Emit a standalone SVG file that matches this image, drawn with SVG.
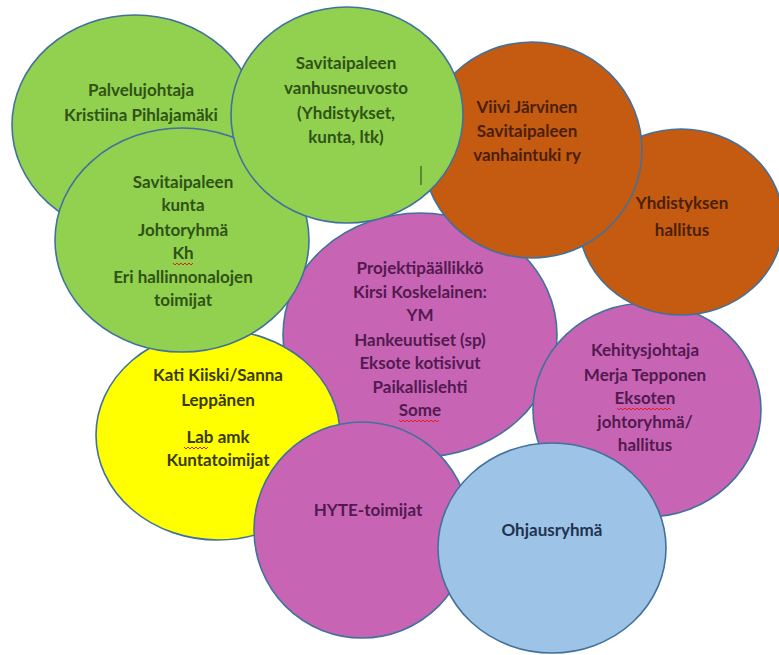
<svg xmlns="http://www.w3.org/2000/svg" width="779" height="655" viewBox="0 0 779 655">
<style>
.n{stroke:#41719C;stroke-width:1.6}
.g{fill:#92D050}.o{fill:#C55A11}.m{fill:#C864B4}.y{fill:#FFFF00}.b{fill:#9DC3E6}
text{font-family:Lato,"Liberation Sans",Arial,sans-serif;font-size:17px;font-weight:bold;text-anchor:middle}
.tg{fill:#2F5316}.to{fill:#4A1F06}.tm{fill:#521A50}.ty{fill:#3A3A00}.tb{fill:#1F3350}
.sq{fill:none;stroke:#E02020;stroke-width:1}
</style>
<rect width="779" height="655" fill="#FFFFFF"/>
<g id="connectors"></g>
<g id="projektipaallikko">
<ellipse class="n m" cx="420" cy="335" rx="137" ry="122"/>
<text class="tm"><tspan x="420" y="274">Projektipäällikkö</tspan><tspan x="420" y="298">Kirsi Koskelainen:</tspan><tspan x="420" y="321">YM</tspan><tspan x="420" y="346">Hankeuutiset (sp)</tspan><tspan x="420" y="369">Eksote kotisivut</tspan><tspan x="420" y="393">Paikallislehti</tspan><tspan x="420" y="416">Some</tspan></text>
<path class="sq" d="M399,420 l2,2 l2,-2 l2,2 l2,-2 l2,2 l2,-2 l2,2 l2,-2 l2,2 l2,-2 l2,2 l2,-2 l2,2 l2,-2 l2,2 l2,-2 l2,2 l2,-2 l2,2 l2,-2"/>
</g>
<g id="kehitysjohtaja">
<ellipse class="n m" cx="647" cy="410" rx="114" ry="107"/>
<text class="tm"><tspan x="645" y="356">Kehitysjohtaja</tspan><tspan x="645" y="381">Merja Tepponen</tspan><tspan x="645" y="404">Eksoten</tspan><tspan x="645" y="428">johtoryhmä/</tspan><tspan x="645" y="451">hallitus</tspan></text>
<path class="sq" d="M617,408 l2,2 l2,-2 l2,2 l2,-2 l2,2 l2,-2 l2,2 l2,-2 l2,2 l2,-2 l2,2 l2,-2 l2,2 l2,-2 l2,2 l2,-2 l2,2 l2,-2 l2,2 l2,-2 l2,2 l2,-2 l2,2 l2,-2 l2,2 l2,-2 l2,2"/>
</g>
<g id="kati-kiiski">
<ellipse class="n y" cx="218" cy="435" rx="122" ry="105"/>
<text class="ty"><tspan x="218" y="381">Kati Kiiski/Sanna</tspan><tspan x="218" y="406">Leppänen</tspan><tspan x="218" y="443">Lab amk</tspan><tspan x="218" y="466">Kuntatoimijat</tspan></text>
<path class="sq" d="M184,447 l2,2 l2,-2 l2,2 l2,-2 l2,2 l2,-2 l2,2 l2,-2 l2,2 l2,-2 l2,2 l2,-2"/>
</g>
<g id="hyte">
<ellipse class="n m" cx="362" cy="530" rx="108" ry="108"/>
<text class="tm" x="368" y="516">HYTE-toimijat</text>
</g>
<g id="ohjausryhma">
<ellipse class="n b" cx="552" cy="548" rx="114" ry="105"/>
<text class="tb" x="552" y="536">Ohjausryhmä</text>
</g>
<g id="palvelujohtaja">
<ellipse class="n g" cx="135" cy="125" rx="123" ry="110"/>
<text class="tg"><tspan x="141" y="96">Palvelujohtaja</tspan><tspan x="141" y="121">Kristiina Pihlajamäki</tspan></text>
</g>
<g id="kunta-johtoryhma">
<ellipse class="n g" cx="182" cy="240" rx="127" ry="112"/>
<text class="tg"><tspan x="183" y="188">Savitaipaleen</tspan><tspan x="183" y="211">kunta</tspan><tspan x="183" y="236">Johtoryhmä</tspan><tspan x="183" y="259">Kh</tspan><tspan x="183" y="283">Eri hallinnonalojen</tspan><tspan x="183" y="306">toimijat</tspan></text>
<path class="sq" d="M173,263 l2,2 l2,-2 l2,2 l2,-2 l2,2 l2,-2 l2,2 l2,-2 l2,2 l2,-2"/>
</g>
<g id="yhdistyksen-hallitus">
<ellipse class="n o" cx="681" cy="222" rx="102" ry="93"/>
<text class="to"><tspan x="682" y="209">Yhdistyksen</tspan><tspan x="682" y="236">hallitus</tspan></text>
</g>
<g id="viivi-jarvinen">
<ellipse class="n o" cx="532" cy="150" rx="110" ry="108"/>
<text class="to"><tspan x="527" y="113">Viivi Järvinen</tspan><tspan x="527" y="137">Savitaipaleen</tspan><tspan x="527" y="161">vanhaintuki ry</tspan></text>
</g>
<g id="vanhusneuvosto">
<ellipse class="n g" cx="347" cy="115" rx="116" ry="108"/>
<text class="tg"><tspan x="346" y="69">Savitaipaleen</tspan><tspan x="346" y="94">vanhusneuvosto</tspan><tspan x="346" y="119">(Yhdistykset,</tspan><tspan x="346" y="143">kunta, ltk)</tspan></text>
<line x1="421" y1="166" x2="421" y2="185" stroke="#3A5A2A" stroke-width="1.2"/>
</g>
</svg>
